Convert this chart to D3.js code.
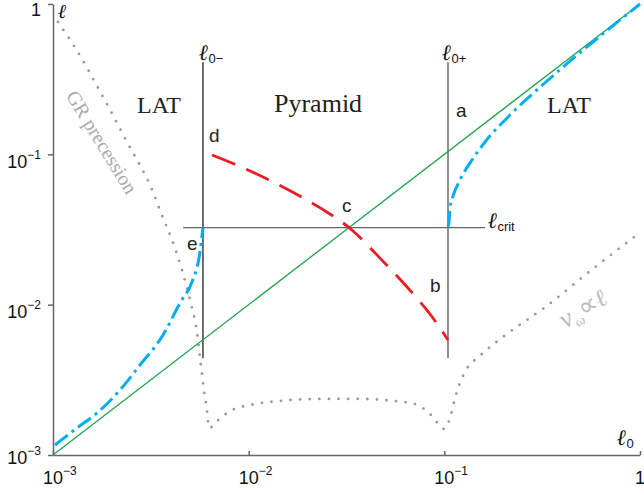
<!DOCTYPE html>
<html><head><meta charset="utf-8">
<script src="https://cdn.jsdelivr.net/npm/d3@7"></script>
<style>body{margin:0;background:#fff}</style>
</head><body><svg id="c" width="644" height="495"></svg>
<script>
// ---- data ----
const xTicks = [1e-3, 1e-2, 1e-1, 1];
const yTicks = [1e-3, 1e-2, 1e-1, 1];
const tickBase = ["10", "10", "10", "1"];
const tickExp = ["−3", "−2", "−1", ""];

const l0minus = 0.00584, l0plus = 0.1044, lcrit = 0.0325;
const boundTop = 0.41, boundBottom = 0.0044;
const critFrom = 0.00462, critTo = 0.1614;

const diagX = [1e-3, 1];
const diagY = [1e-3, 1];

const pyramidX = [0.0065, 0.00992, 0.0153, 0.0232, 0.0337, 0.0469, 0.0645, 0.0875, 0.1044];
const pyramidY = [0.099, 0.0787, 0.0597, 0.044, 0.0314, 0.0204, 0.0131, 0.00815, 0.00582];

const latLeftX = [0.001024, 0.001327, 0.001679, 0.0022, 0.002784, 0.00365, 0.004457, 0.005133, 0.005573, 0.00584];
const latLeftY = [0.001166, 0.001512, 0.001903, 0.002707, 0.003969, 0.006285, 0.01026, 0.01415, 0.02044, 0.0325];

const latRightX = [0.1044, 0.1056, 0.1069, 0.1108, 0.1202, 0.1385, 0.1614, 0.2165, 0.3193, 0.4236, 0.6246, 1.0];
const latRightY = [0.033, 0.035, 0.044, 0.0528, 0.0675, 0.0917, 0.1208, 0.1827, 0.2914, 0.4014, 0.6108, 1.0];

const precessX = [0.00106, 0.00131, 0.00178, 0.00239, 0.00321, 0.00365, 0.00406, 0.00456, 0.00501, 0.00544, 0.0057, 0.00591, 0.00612, 0.00627,
  0.00689, 0.00803, 0.01016, 0.01446, 0.02315, 0.03795, 0.05466, 0.0708, 0.0865, 0.0996,
  0.1069, 0.1134, 0.1275, 0.1521, 0.1994, 0.3231, 0.582, 0.965];
const precessY = [0.759, 0.502, 0.248, 0.1208, 0.0579, 0.0377, 0.0269, 0.017, 0.01074, 0.00658, 0.00397, 0.00271, 0.00199, 0.00151,
  0.00168, 0.00196, 0.00215, 0.00229, 0.00236, 0.00236, 0.00229, 0.00218, 0.00182, 0.00149,
  0.00176, 0.00239, 0.00357, 0.00456, 0.0061, 0.0095, 0.01754, 0.0291];

// ---- chart ----
const svg = d3.select("#c");
const x = d3.scaleLog().domain([1e-3, 1]).range([53, 640]);
const y = d3.scaleLog().domain([1e-3, 1]).range([455, 4]);
const sans = "'Liberation Sans', Arial, sans-serif";
const serif = "'Liberation Serif', 'Times New Roman', serif";
const ellFont = "'DejaVu Serif', serif";

const zip = (xs, ys) => xs.map((v, i) => [v, ys[i]]);
const line = d3.line().x(d => x(d[0])).y(d => y(d[1])).curve(d3.curveMonotoneX);
const lineLin = d3.line().x(d => x(d[0])).y(d => y(d[1]));

// axes
const gx = svg.append("g").attr("transform", `translate(0,${y(1e-3)})`)
  .call(d3.axisBottom(x).tickValues(xTicks).tickFormat("").tickSize(-4).tickSizeOuter(0));
const gy = svg.append("g").attr("transform", `translate(${x(1e-3)},0)`)
  .call(d3.axisLeft(y).tickValues(yTicks).tickFormat("").tickSize(5).tickSizeOuter(0));
[gx, gy].forEach(g => {
  g.selectAll("path,line").attr("stroke", "#666").attr("stroke-width", 1.5);
});

// tick labels
const yOff = [9, 13, 14, 12];
yTicks.forEach((v, i) => {
  const t = svg.append("text").attr("x", 41).attr("y", y(v) + yOff[i])
    .attr("text-anchor", "end").attr("font-family", sans).attr("font-size", 18).attr("fill", "#111");
  t.append("tspan").text(tickBase[i]);
  if (tickExp[i]) t.append("tspan").attr("font-size", 12).attr("dy", -9).text(tickExp[i]);
});
xTicks.forEach((v, i) => {
  const t = svg.append("text").attr("x", x(v) - (tickExp[i] ? 10 : 5)).attr("y", 484)
    .attr("font-family", sans).attr("font-size", 18).attr("fill", "#111");
  t.append("tspan").text(tickBase[i]);
  if (tickExp[i]) t.append("tspan").attr("font-size", 12).attr("dy", -9).text(tickExp[i]);
});

// boundary lines
svg.append("line").attr("x1", x(l0minus)).attr("x2", x(l0minus)).attr("y1", y(boundTop)).attr("y2", y(boundBottom))
  .attr("stroke", "#222").attr("stroke-width", 1.3);
svg.append("line").attr("x1", x(l0plus)).attr("x2", x(l0plus)).attr("y1", y(boundTop)).attr("y2", y(boundBottom))
  .attr("stroke", "#555").attr("stroke-width", 1.3);
svg.append("line").attr("x1", x(critFrom)).attr("x2", x(critTo)).attr("y1", y(lcrit)).attr("y2", y(lcrit))
  .attr("stroke", "#666").attr("stroke-width", 1.3);

// dotted GR precession / nu curve
svg.append("path").attr("d", line(zip(precessX, precessY))).attr("fill", "none")
  .attr("stroke", "#999").attr("stroke-width", 2.8).attr("stroke-linecap", "round").attr("stroke-dasharray", "0 9.6");

// diagonal
svg.append("path").attr("d", lineLin(zip(diagX, diagY))).attr("fill", "none")
  .attr("stroke", "#1ba34a").attr("stroke-width", 1.3);

// pyramid red dashed
svg.append("path").attr("d", line(zip(pyramidX, pyramidY))).attr("fill", "none")
  .attr("stroke", "#ec1c24").attr("stroke-width", 2.8).attr("stroke-dasharray", "25 12");

// LAT blue dash-dot
[[latLeftX, latLeftY], [latRightX, latRightY]].forEach(([xs, ys]) => {
  svg.append("path").attr("d", line(zip(xs, ys))).attr("fill", "none")
    .attr("stroke", "#00aeef").attr("stroke-width", 3).attr("stroke-dasharray", "16 5 3 5");
});

// region labels
const region = (txt, px, py, fs) => svg.append("text").attr("x", px).attr("y", py)
  .attr("font-family", serif).attr("font-size", fs).attr("fill", "#222").text(txt);
region("LAT", 137, 113, 24);
region("Pyramid", 274, 112, 26);
region("LAT", 547, 113, 24);

// point letters
const letter = (txt, px, py) => svg.append("text").attr("x", px).attr("y", py)
  .attr("font-family", sans).attr("font-size", 19).attr("fill", "#222").text(txt);
letter("a", 456, 117);
letter("d", 209, 142);
letter("c", 342, 212);
letter("e", 187, 250);
letter("b", 430, 292);

// ell labels
const ell = (px, py, sub, fs) => {
  const t = svg.append("text").attr("x", px).attr("y", py).attr("fill", "#111");
  t.append("tspan").attr("font-family", ellFont).attr("font-style", "italic").attr("font-weight", "bold")
    .attr("font-size", fs).text("ℓ");
  if (sub) t.append("tspan").attr("font-family", sans).attr("font-size", 13).attr("dy", 3).text(sub);
};
ell(58, 18, "", 20);
ell(199, 60, "0−", 22);
ell(442, 60, "0+", 22);
ell(488, 228, "crit", 22);
ell(617, 445, "0", 22);

// rotated gray labels
svg.append("text").attr("transform", "translate(102,142) rotate(58.5)")
  .attr("text-anchor", "middle").attr("dominant-baseline", "central")
  .attr("font-family", serif).attr("font-size", 20).attr("fill", "#aaa").text("GR precession");
const nu = svg.append("text").attr("transform", "translate(587,316) rotate(-31)")
  .attr("text-anchor", "middle").attr("font-family", serif).attr("font-style", "italic")
  .attr("font-size", 27).attr("fill", "#bbb");
nu.append("tspan").text("ν");
nu.append("tspan").attr("font-size", 14).attr("dy", 5).text("ω");
nu.append("tspan").attr("dy", -5).attr("font-style", "normal").text("∝");
nu.append("tspan").attr("font-family", ellFont).attr("font-size", 24).text("ℓ");
</script></body></html>
